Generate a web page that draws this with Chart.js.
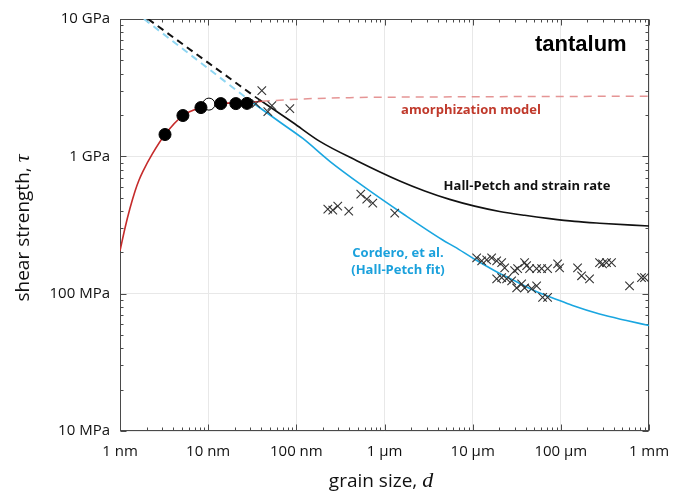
<!DOCTYPE html>
<html>
<head>
<meta charset="utf-8">
<script src="https://cdn.jsdelivr.net/npm/chart.js@4/dist/chart.umd.min.js"></script>
<style>
  body { margin: 0; background: #fff; }
  #wrap { width: 685px; height: 492px; }
</style>
</head>
<body>
<div id="wrap"><canvas id="myChart" width="685" height="492"></canvas></div>
<script>
// grain size in nm, shear strength in MPa
const xTickValues = [1, 10, 100, 1e3, 1e4, 1e5, 1e6];
const xTickLabels = ["1 nm", "10 nm", "100 nm", "1 µm", "10 µm", "100 µm", "1 mm"];
const yTickValues = [10, 100, 1000, 10000];
const yTickLabels = ["10 MPa", "100 MPa", "1 GPa", "10 GPa"];

// MD simulation points
const mdSize = [3.24, 5.17, 8.28, 13.9, 20.6, 27.5];
const mdStrength = [1442, 1982, 2265, 2421, 2421, 2430];
const mdOpenSize = [10.2];
const mdOpenStrength = [2400];

// experiments (crosses)
const expSize = [40.6, 34.8, 47.5, 52.8, 84.4,
  227.5, 259, 295, 393, 538, 629, 736, 1306,
  11100, 12650, 14420, 16410, 18710, 21320, 23060, 18710, 21320, 24280, 27670,
  29920, 32350, 38830, 40930, 44260, 31540, 35920, 38830, 46660, 53130, 60540,
  70760, 53130, 62090, 70760, 91900, 96800, 154800, 171900, 211600, 274900,
  297200, 329700, 375500, 601500, 822000, 889000];
const expStrength = [3006, 2421, 2118, 2343, 2228,
  413, 406, 434, 399, 531, 488, 456, 386,
  182, 173, 176, 182, 173, 168, 154, 128, 131, 128, 124,
  147, 152, 168, 160, 152, 110, 118, 110, 109, 152, 152,
  152, 114, 94, 94, 165, 154, 154, 135, 128, 168,
  165, 168, 168, 114, 131, 131];

// amorphization model
const amorphSize = [1, 1.14, 1.30, 1.48, 1.64, 1.82, 2.31, 3.24, 5.17, 8.28, 13.9, 27.5, 40.6];
const amorphStrength = [205, 301, 420, 557, 670, 778, 1033, 1442, 1982, 2265, 2421, 2463, 2518];
const amorphDashSize = [40.6, 110, 404, 1490, 20200, 1e6];
const amorphDashStrength = [2518, 2612, 2676, 2698, 2720, 2740];

// Hall-Petch and strain rate
const hpRateDashSize = [2.08, 33.9];
const hpRateDashStrength = [10000, 2720];
const hpRateSize = [33.9, 91.3, 184.7, 485, 1489, 2858, 5486, 10540, 20230, 38830, 74600, 143200, 274900, 1e6];
const hpRateStrength = [2720, 1763, 1284, 930, 662, 560, 486, 434, 397, 372, 352, 336, 326, 311];

// Cordero et al. Hall-Petch fit
const corderoDashSize = [1.87, 29.7];
const corderoDashStrength = [10000, 2546];
const corderoSize = [29.7, 68.5, 118.5, 239.7, 552, 1696, 4571, 6252, 10540, 17750, 29920, 50430, 84900, 135900, 274900, 555900, 1e6];
const corderoStrength = [2546, 1734, 1349, 920, 617, 374, 246, 219, 178, 147, 124, 105, 92, 81.9, 71, 63.7, 58.6];

const red = "#c52b2b";
const blue = "#1aa6e0";

const toPoints = (xs, ys) => xs.map((x, i) => ({ x: x, y: ys[i] }));

const lineSet = (data, color, width, dash, order) => ({
  data: data,
  showLine: true,
  borderColor: color,
  borderWidth: width,
  borderDash: dash,
  pointRadius: 0,
  cubicInterpolationMode: "monotone",
  fill: false,
  order: order
});

const frameTicks = {
  id: "frameTicks",
  beforeDatasetsDraw(chart) {
    const { ctx, chartArea: a, scales } = chart;
    const x = scales.x, y = scales.y;
    ctx.save();
    ctx.strokeStyle = "#4a4a4a";
    ctx.lineWidth = 1;
    const L = Math.round(a.left) + 0.5, R = Math.round(a.right) - 0.5;
    const T = Math.round(a.top) + 0.5, B = Math.round(a.bottom) - 0.5;
    ctx.strokeRect(L, T, R - L, B - T);
    ctx.beginPath();
    const tickX = (v, len) => {
      const p = Math.round(x.getPixelForValue(v)) + 0.5;
      ctx.moveTo(p, B); ctx.lineTo(p, B - len);
      ctx.moveTo(p, T); ctx.lineTo(p, T + len);
    };
    const tickY = (v, len) => {
      const p = Math.round(y.getPixelForValue(v)) + 0.5;
      ctx.moveTo(L, p); ctx.lineTo(L + len, p);
      ctx.moveTo(R, p); ctx.lineTo(R - len, p);
    };
    xTickValues.forEach((d, i) => {
      tickX(d, 6);
      if (i < xTickValues.length - 1) for (let m = 2; m < 10; m++) tickX(d * m, 3);
    });
    yTickValues.forEach((d, i) => {
      tickY(d, 6);
      if (i < yTickValues.length - 1) for (let m = 2; m < 10; m++) tickY(d * m, 3);
    });
    ctx.stroke();
    ctx.restore();
  },
  afterDraw(chart) {
    const ctx = chart.ctx;
    ctx.save();
    ctx.textBaseline = "alphabetic";
    ctx.fillStyle = "#111";

    // x axis title
    const xa = "grain size, ";
    ctx.font = "19px 'Open Sans'";
    const w1 = ctx.measureText(xa).width;
    ctx.font = "italic 22px 'Liberation Serif'";
    const w2 = ctx.measureText("d").width;
    let sx = 381 - (w1 + w2) / 2;
    ctx.font = "19px 'Open Sans'";
    ctx.textAlign = "left";
    ctx.fillText(xa, sx, 487);
    ctx.font = "italic 22px 'Liberation Serif'";
    ctx.fillText("d", sx + w1, 487);

    // y axis title
    ctx.translate(29, 228);
    ctx.rotate(-Math.PI / 2);
    const ya = "shear strength, ";
    ctx.font = "19px 'Open Sans'";
    const v1 = ctx.measureText(ya).width;
    ctx.font = "italic 22px 'Liberation Serif'";
    const v2 = ctx.measureText("τ").width;
    sx = -(v1 + v2) / 2;
    ctx.font = "19px 'Open Sans'";
    ctx.fillText(ya, sx, 0);
    ctx.font = "italic 22px 'Liberation Serif'";
    ctx.fillText("τ", sx + v1, 0);
    ctx.restore();

    // annotations
    ctx.save();
    ctx.textBaseline = "middle";
    ctx.textAlign = "left";
    ctx.fillStyle = "#000";
    ctx.font = "bold 22px 'Liberation Sans'";
    ctx.fillText("tantalum", 535, 45);
    ctx.textAlign = "center";
    ctx.font = "bold 13px 'Open Sans'";
    ctx.fillStyle = "#c0392b";
    ctx.fillText("amorphization model", 471, 110);
    ctx.fillStyle = "#111";
    ctx.fillText("Hall-Petch and strain rate", 527, 186);
    ctx.fillStyle = "#1ba1dc";
    ctx.fillText("Cordero, et al.", 398, 253);
    ctx.fillText("(Hall-Petch fit)", 398, 270);
    ctx.restore();
  }
};

const ctx = document.getElementById("myChart").getContext("2d");
const myChart = new Chart(ctx, {
  type: "scatter",
  data: {
    datasets: [
      {
        data: toPoints(mdSize, mdStrength),
        pointRadius: 6,
        pointBackgroundColor: "#000",
        pointBorderColor: "#000",
        pointBorderWidth: 1,
        order: 0
      },
      {
        data: toPoints(mdOpenSize, mdOpenStrength),
        pointRadius: 6,
        pointBackgroundColor: "#fff",
        pointBorderColor: "#000",
        pointBorderWidth: 1,
        order: 1
      },
      {
        data: toPoints(expSize, expStrength),
        pointStyle: "crossRot",
        pointRadius: 6,
        pointBorderColor: "#333",
        pointBorderWidth: 1.1,
        order: 2
      },
      lineSet(toPoints(amorphSize, amorphStrength), red, 1.6, [], 3),
      lineSet(toPoints(amorphDashSize, amorphDashStrength), "rgba(225,130,130,0.85)", 1.5, [8, 6], 4),
      lineSet(toPoints(hpRateDashSize, hpRateDashStrength), "#111", 2, [7, 5], 5),
      lineSet(toPoints(hpRateSize, hpRateStrength), "#111", 1.6, [], 6),
      lineSet(toPoints(corderoDashSize, corderoDashStrength), "#8fd6f2", 2, [7, 5], 7),
      lineSet(toPoints(corderoSize, corderoStrength), blue, 1.6, [], 8)
    ]
  },
  options: {
    responsive: false,
    animation: false,
    layout: { padding: { left: 0, right: 36, top: 17, bottom: 0 } },
    plugins: { legend: { display: false }, tooltip: { enabled: false } },
    scales: {
      x: {
        type: "logarithmic",
        min: 1,
        max: 1e6,
        afterBuildTicks: s => { s.ticks = xTickValues.map(v => ({ value: v })); },
        afterFit: s => { s.height = 61; },
        grid: { color: "#e8e8e8", drawTicks: false },
        border: { display: false },
        ticks: {
          padding: 12,
          maxRotation: 0,
          autoSkip: false,
          color: "#111",
          font: { family: "Open Sans", size: 15 },
          callback: v => xTickLabels[xTickValues.indexOf(v)]
        }
      },
      y: {
        type: "logarithmic",
        min: 10,
        max: 10000,
        afterBuildTicks: s => { s.ticks = yTickValues.map(v => ({ value: v })); },
        afterFit: s => { s.width = 120; },
        grid: { color: "#e8e8e8", drawTicks: false },
        border: { display: false },
        ticks: {
          padding: 10,
          autoSkip: false,
          color: "#111",
          font: { family: "Open Sans", size: 15 },
          callback: v => yTickLabels[yTickValues.indexOf(v)]
        }
      }
    }
  },
  plugins: [frameTicks]
});
</script>
</body>
</html>
